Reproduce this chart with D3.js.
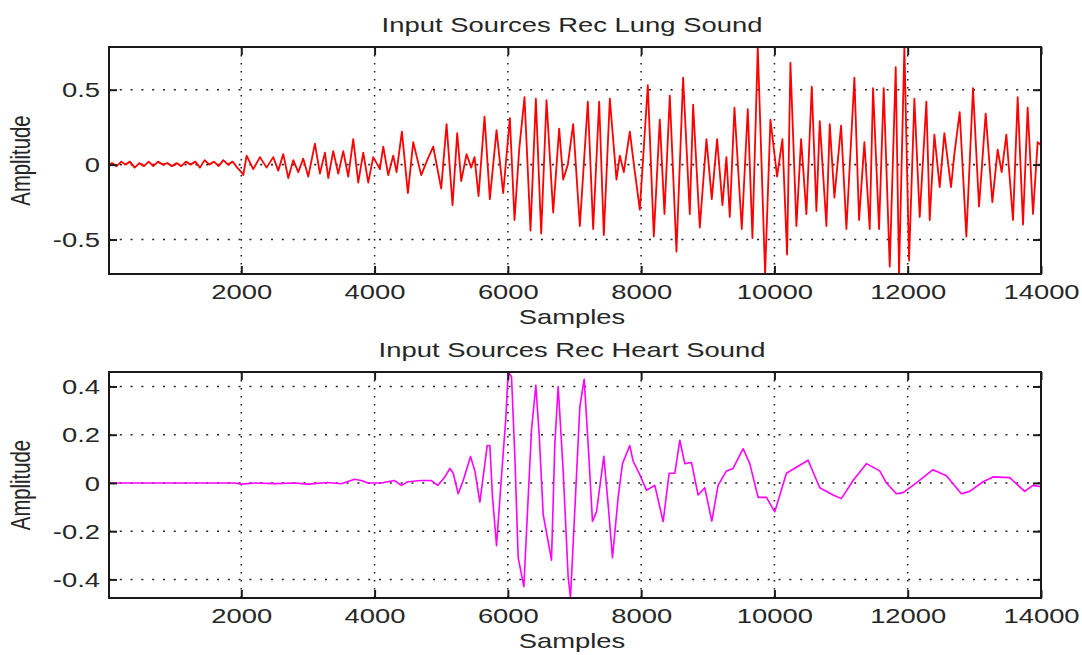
<!DOCTYPE html>
<html><head><meta charset="utf-8">
<script src="https://cdn.jsdelivr.net/npm/d3@7"></script>
<style>
body{margin:0;background:#fff}
svg text{font-family:"Liberation Sans",Arial,sans-serif;fill:#262626}
</style>
</head><body>
<svg id="chart" width="1082" height="655"></svg>
<script>
// ---------- data ----------
const xTicks = [2000, 4000, 6000, 8000, 10000, 12000, 14000];
const xTickLabels = ["2000", "4000", "6000", "8000", "10000", "12000", "14000"];

const lungTitle = "Input Sources Rec Lung Sound";
const lungYTicks = [-0.5, 0, 0.5];
const lungYTickLabels = ["-0.5", "0", "0.5"];
const lungSamples = [0,60,130,200,260,330,400,470,540,610,680,750,820,890,960,1030,1100,1170,1240,1310,1380,1450,1520,1590,1660,1730,1800,1870,1940,2000,
  2030,2080,2180,2280,2380,2480,2555,2630,2705,2780,2855,2930,3005,3105,3180,3255,3305,3380,3455,3530,3605,3680,3755,3830,3905,3980,4080,4130,4205,4280,4330,
  4410,4500,4580,4700,4790,4880,5000,5080,5170,5240,5300,5380,5450,5500,5560,5650,5730,5830,5930,6030,6100,6170,6250,6340,6420,6500,6580,6680,6770,6830,6900,6980,
  7080,7200,7280,7370,7440,7530,7630,7680,7740,7830,7900,7980,8100,8190,8280,8350,8430,8530,8630,8730,8780,8880,8980,9060,9140,9220,9280,9330,9400,9510,9600,9670,
  9750,9860,9940,10040,10120,10190,10240,10330,10400,10480,10560,10630,10680,10780,10830,10900,11000,11080,11200,11270,11350,11430,11480,11570,11640,11730,11820,11870,
  11950,12020,12100,12180,12280,12330,12400,12480,12550,12650,12700,12780,12880,12980,13070,13170,13270,13350,13410,13480,13580,13650,13730,13800,13880,13950,14000];
const lungAmplitude = [0,0.01,-0.01,0.02,0,0.02,-0.02,0.01,-0.01,0.02,-0.01,0.02,0,0.01,-0.01,0.01,-0.01,0.02,0,0.02,-0.02,0.03,0,0.02,-0.01,0.03,0,0.02,-0.02,-0.05,
  -0.07,0.06,-0.03,0.05,-0.02,0.05,-0.04,0.07,-0.09,0.03,-0.05,0.04,-0.08,0.14,-0.06,0.08,-0.09,0.09,-0.06,0.09,-0.08,0.17,-0.12,0.08,-0.12,0.05,-0.03,0.12,-0.07,0.06,-0.05,
  0.22,-0.19,0.15,-0.07,0.03,0.12,-0.16,0.27,-0.27,0.21,-0.11,0.07,-0.02,0.05,-0.21,0.32,-0.23,0.23,-0.19,0.31,-0.37,0.1,0.45,-0.44,0.44,-0.46,0.43,-0.32,0.24,-0.1,0,0.27,
  -0.41,0.42,-0.43,0.42,-0.47,0.44,-0.1,0.06,-0.05,0.22,-0.03,-0.3,0.53,-0.48,0.3,-0.33,0.46,-0.58,0.58,-0.33,0.4,-0.42,0.17,-0.23,0.17,-0.27,0.05,-0.35,0.38,-0.43,0.37,-0.49,
  0.785,-0.73,0.3,-0.08,0.17,-0.6,0.68,-0.41,0.17,-0.33,0.52,-0.31,0.29,-0.41,0.27,-0.22,0.26,-0.43,0.58,-0.37,0.15,-0.43,0.51,-0.43,0.51,-0.68,0.65,-0.73,
  0.785,-0.64,0.44,-0.35,0.42,-0.37,0.2,-0.15,0.21,-0.15,0.07,0.35,-0.48,0.51,-0.28,0.34,-0.25,0.1,-0.05,0.2,-0.37,0.45,-0.4,0.38,-0.33,0.15,0.13];

const heartTitle = "Input Sources Rec Heart Sound";
const heartYTicks = [-0.4, -0.2, 0, 0.2, 0.4];
const heartYTickLabels = ["-0.4", "-0.2", "0", "0.2", "0.4"];
const heartSamples = [0,1900,2000,2200,2500,2800,3000,3300,3500,3700,3800,3900,4100,4300,4400,4500,4700,4850,4950,
  5055,5130,5180,5255,5330,5440,5505,5580,5690,5730,5770,5830,5905,5970,6005,6055,6105,6155,6240,6305,6355,6420,6470,6530,6655,6705,6755,6830,6905,6940,
  7005,7080,7145,7205,7270,7330,7440,7505,7570,7655,7720,7830,7880,7970,8080,8205,8330,8420,8505,8580,8655,8755,8855,8955,9060,
  9155,9280,9380,9530,9630,9755,9880,10005,10180,10330,10505,10680,10880,11005,11180,11380,11580,11680,11830,11930,12130,12380,12580,12805,12930,13130,13280,13530,13755,13880,13980,14000];
const heartAmplitude = [0,0,-0.005,0,-0.003,0,-0.005,0.002,-0.003,0.015,0.01,0,0,0.01,-0.01,0.005,0.01,0.01,-0.01,
  0.025,0.06,0.04,-0.045,0.01,0.11,0.05,-0.08,0.155,0.155,-0.06,-0.26,0.03,0.27,0.46,0.44,0.11,-0.31,-0.43,-0.06,0.22,0.405,0.2,-0.13,-0.32,0.16,0.4,0.05,-0.39,-0.477,
  -0.11,0.315,0.43,0.16,-0.16,-0.12,0.11,-0.09,-0.31,-0.06,0.08,0.155,0.09,0.04,-0.03,-0.01,-0.16,0.04,0.04,0.177,0.08,0.085,-0.05,-0.02,-0.158,
  -0.01,0.05,0.06,0.142,0.08,-0.06,-0.06,-0.12,0.04,0.065,0.094,-0.02,-0.05,-0.065,0.01,0.08,0.05,0,-0.045,-0.04,0,0.055,0.03,-0.045,-0.035,0.005,0.025,0.022,-0.035,-0.01,-0.015,-0.015];

// ---------- layout ----------
const SX = 1.35;           // horizontal stretch of the original bitmap
const FS = 20.3;
const svg = d3.select("#chart");
const L = 109, R = 1041;

const panels = [
  {title: lungTitle, xs: lungSamples, ys: lungAmplitude, yTicks: lungYTicks, yLabels: lungYTickLabels,
   color: "#ff0000", width: 1.8, top: 47, bottom: 274, titleY: 32},
  {title: heartTitle, xs: heartSamples, ys: heartAmplitude, yTicks: heartYTicks, yLabels: heartYTickLabels,
   color: "#ff00ff", width: 1.6, top: 372, bottom: 598, titleY: 357}
];

function stretchedText(g, txt, x, y, anchor, rotate) {
  return g.append("text")
    .attr("transform", `translate(${x},${y}) scale(${SX},1)` + (rotate ? " rotate(-90)" : ""))
    .attr("text-anchor", anchor)
    .style("font-size", FS + "px")
    .text(txt);
}

panels.forEach(p => {
  const g = svg.append("g");
  const x = d3.scaleLinear().domain([0, 14000]).range([108, R]);
  const y = d3.scaleLinear().domain(d3.extent(p.ys)).range([p.bottom, p.top]);
  const pts = p.xs.map((s, i) => [s, p.ys[i]]);

  // grid
  g.append("g").selectAll("line").data(xTicks.filter(t => t < 14000)).join("line")
    .attr("x1", d => x(d)).attr("x2", d => x(d)).attr("y1", p.top).attr("y2", p.bottom)
    .attr("stroke", "#222").attr("stroke-width", 1.6).attr("stroke-dasharray", "1.6,6.4");
  g.append("g").selectAll("line").data(p.yTicks).join("line")
    .attr("x1", L).attr("x2", R).attr("y1", d => y(d)).attr("y2", d => y(d))
    .attr("stroke", "#222").attr("stroke-width", 1.6).attr("stroke-dasharray", "2,8.8");

  // signal
  g.append("path").datum(pts)
    .attr("d", d3.line().x(d => x(d[0])).y(d => y(d[1])))
    .attr("fill", "none").attr("stroke", p.color).attr("stroke-width", p.width).attr("stroke-linejoin", "round");

  // frame
  g.append("rect").attr("x", L).attr("y", p.top).attr("width", R - L).attr("height", p.bottom - p.top)
    .attr("fill", "none").attr("stroke", "#1a1a1a").attr("stroke-width", 2);

  // axes
  const ax = g.append("g").attr("transform", `translate(0,${p.bottom})`)
    .call(d3.axisBottom(x).tickValues(xTicks).tickSize(-8).tickFormat((d, i) => xTickLabels[i]));
  ax.select(".domain").remove();
  ax.attr("color", "#1a1a1a").selectAll(".tick line").attr("stroke-width", 2);
  ax.selectAll(".tick text").attr("y", 25).attr("dy", 0).attr("transform", `scale(${SX},1)`).style("font-size", FS + "px");

  const at = g.append("g").attr("transform", `translate(0,${p.top})`)
    .call(d3.axisTop(x).tickValues(xTicks).tickSize(-8).tickFormat(""));
  at.select(".domain").remove();
  at.attr("color", "#1a1a1a").selectAll(".tick line").attr("stroke-width", 2);

  const ay = g.append("g").attr("transform", `translate(${L},0)`)
    .call(d3.axisLeft(y).tickValues(p.yTicks).tickSize(-8).tickFormat((d, i) => p.yLabels[i]));
  ay.select(".domain").remove();
  ay.attr("color", "#1a1a1a").selectAll(".tick line").attr("stroke-width", 2);
  ay.selectAll(".tick text").attr("x", -9 / SX).attr("dy", "0.35em").attr("transform", `scale(${SX},1)`).style("font-size", FS + "px");

  const ar = g.append("g").attr("transform", `translate(${R},0)`)
    .call(d3.axisRight(y).tickValues(p.yTicks).tickSize(-8).tickFormat(""));
  ar.select(".domain").remove();
  ar.attr("color", "#1a1a1a").selectAll(".tick line").attr("stroke-width", 2);

  // labels
  stretchedText(g, p.title, (L + R) / 2 - 3, p.titleY, "middle");
  stretchedText(g, "Samples", (L + R) / 2 - 3, p.bottom + 50, "middle");
  stretchedText(g, "Amplitude", 30, (p.top + p.bottom) / 2, "middle", true);
});
</script>
</body></html>
